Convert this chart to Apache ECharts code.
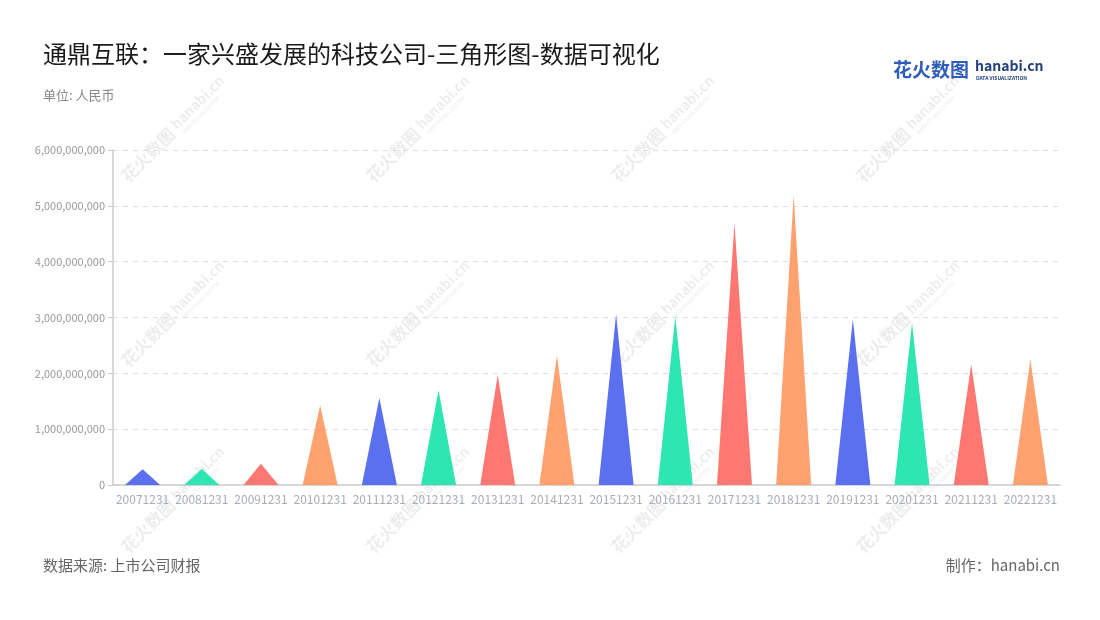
<!DOCTYPE html>
<html>
<head>
<meta charset="utf-8">
<script src="https://cdn.jsdelivr.net/npm/echarts@6/dist/echarts.min.js"></script>
<style>
html,body{margin:0;padding:0;background:#fff;}
#main{width:1100px;height:620px;}
</style>
</head>
<body>
<div id="main"></div>
<script>
const categories = ['20071231','20081231','20091231','20101231','20111231','20121231','20131231','20141231','20151231','20161231','20171231','20181231','20191231','20201231','20211231','20221231'];
const values = [280000000, 290000000, 380000000, 1430000000, 1560000000, 1700000000, 1970000000, 2320000000, 3060000000, 3020000000, 4690000000, 5190000000, 2970000000, 2900000000, 2160000000, 2250000000];
const palette = ['#5b70ee', '#2ee6b1', '#ff7771', '#ffa26f'];
const yTicks = [0, 1000000000, 2000000000, 3000000000, 4000000000, 5000000000, 6000000000];

const FONT = '"Noto Sans CJK SC", "Noto Sans", sans-serif';
const chart = echarts.init(document.getElementById('main'), null, {renderer: 'canvas'});

// watermark graphics
const wm = [];
const wmX = [130, 375, 620, 865];
const wmY = [185, 370, 556];
wmX.forEach(x => wmY.forEach(y => {
  wm.push({
    type: 'group', x: x, y: y, rotation: Math.PI / 4, silent: true, z: -10,
    children: [
      {type: 'text', x: 0, y: 0, style: {text: '花火数图', fill: 'rgba(0,0,0,0.075)', font: 'bold 17px ' + FONT, textAlign: 'left', textVerticalAlign: 'bottom'}},
      {type: 'text', x: 72, y: -4, style: {text: 'hanabi.cn', fill: 'rgba(0,0,0,0.075)', font: 'bold 14px ' + FONT, textAlign: 'left', textVerticalAlign: 'bottom'}},
      {type: 'text', x: 74, y: 3, style: {text: 'DATA VISUALIZATION', fill: 'rgba(0,0,0,0.07)', font: 'bold 5px ' + FONT, textAlign: 'left', textVerticalAlign: 'bottom'}}
    ]
  });
}));

const option = {
  backgroundColor: '#fff',
  animation: false,
  title: [
    {text: '通鼎互联：一家兴盛发展的科技公司-三角形图-数据可视化', left: 38, top: 37, textStyle: {fontFamily: FONT, fontSize: 24, fontWeight: 'normal', color: '#1a1a1a'}},
    {text: '单位: 人民币', left: 38, top: 84, textStyle: {fontFamily: FONT, fontSize: 13, fontWeight: 'normal', color: '#888'}}
  ],
  graphic: wm.concat([
    {type: 'text', left: 893, top: 60, style: {text: '花火数图', fill: '#2f5cb8', font: 'bold 19px ' + FONT}},
    {type: 'text', left: 975, top: 59, style: {text: 'hanabi.cn', fill: '#24407f', font: 'bold 14px ' + FONT}},
    {type: 'text', left: 976, top: 76, style: {text: 'DATA VISUALIZATION', fill: '#24407f', font: 'bold 5px ' + FONT}},
    {type: 'text', left: 43, top: 558, style: {text: '数据来源: 上市公司财报', fill: '#666', font: '15px ' + FONT}},
    {type: 'text', right: 40, top: 558, style: {text: '制作：hanabi.cn', fill: '#666', font: '15px ' + FONT}}
  ]),
  grid: {left: 113, right: 40, top: 150, bottom: 135},
  xAxis: {
    type: 'category',
    data: categories,
    axisLine: {lineStyle: {color: '#ccc', width: 1.5}},
    axisTick: {alignWithLabel: true, length: 5, lineStyle: {color: '#ccc'}},
    axisLabel: {color: '#a9acb8', fontSize: 12, fontFamily: FONT, margin: 8, interval: 0}
  },
  yAxis: {
    type: 'value',
    min: 0, max: 6000000000, interval: 1000000000,
    axisLine: {show: true, lineStyle: {color: '#ccc', width: 1.5}},
    axisTick: {show: true, length: 5, lineStyle: {color: '#ccc'}},
    axisLabel: {color: '#999', fontSize: 11, fontFamily: FONT, margin: 8,
      formatter: v => v.toLocaleString('en-US')},
    splitLine: {lineStyle: {color: '#ddd', type: [5, 5]}}
  },
  series: [{
    type: 'pictorialBar',
    symbol: 'triangle',
    symbolSize: [35, '100%'],
    data: values.map((v, i) => ({value: v, itemStyle: {color: palette[i % palette.length]}})),
    z: 5
  }]
};
chart.setOption(option);
</script>
</body>
</html>
